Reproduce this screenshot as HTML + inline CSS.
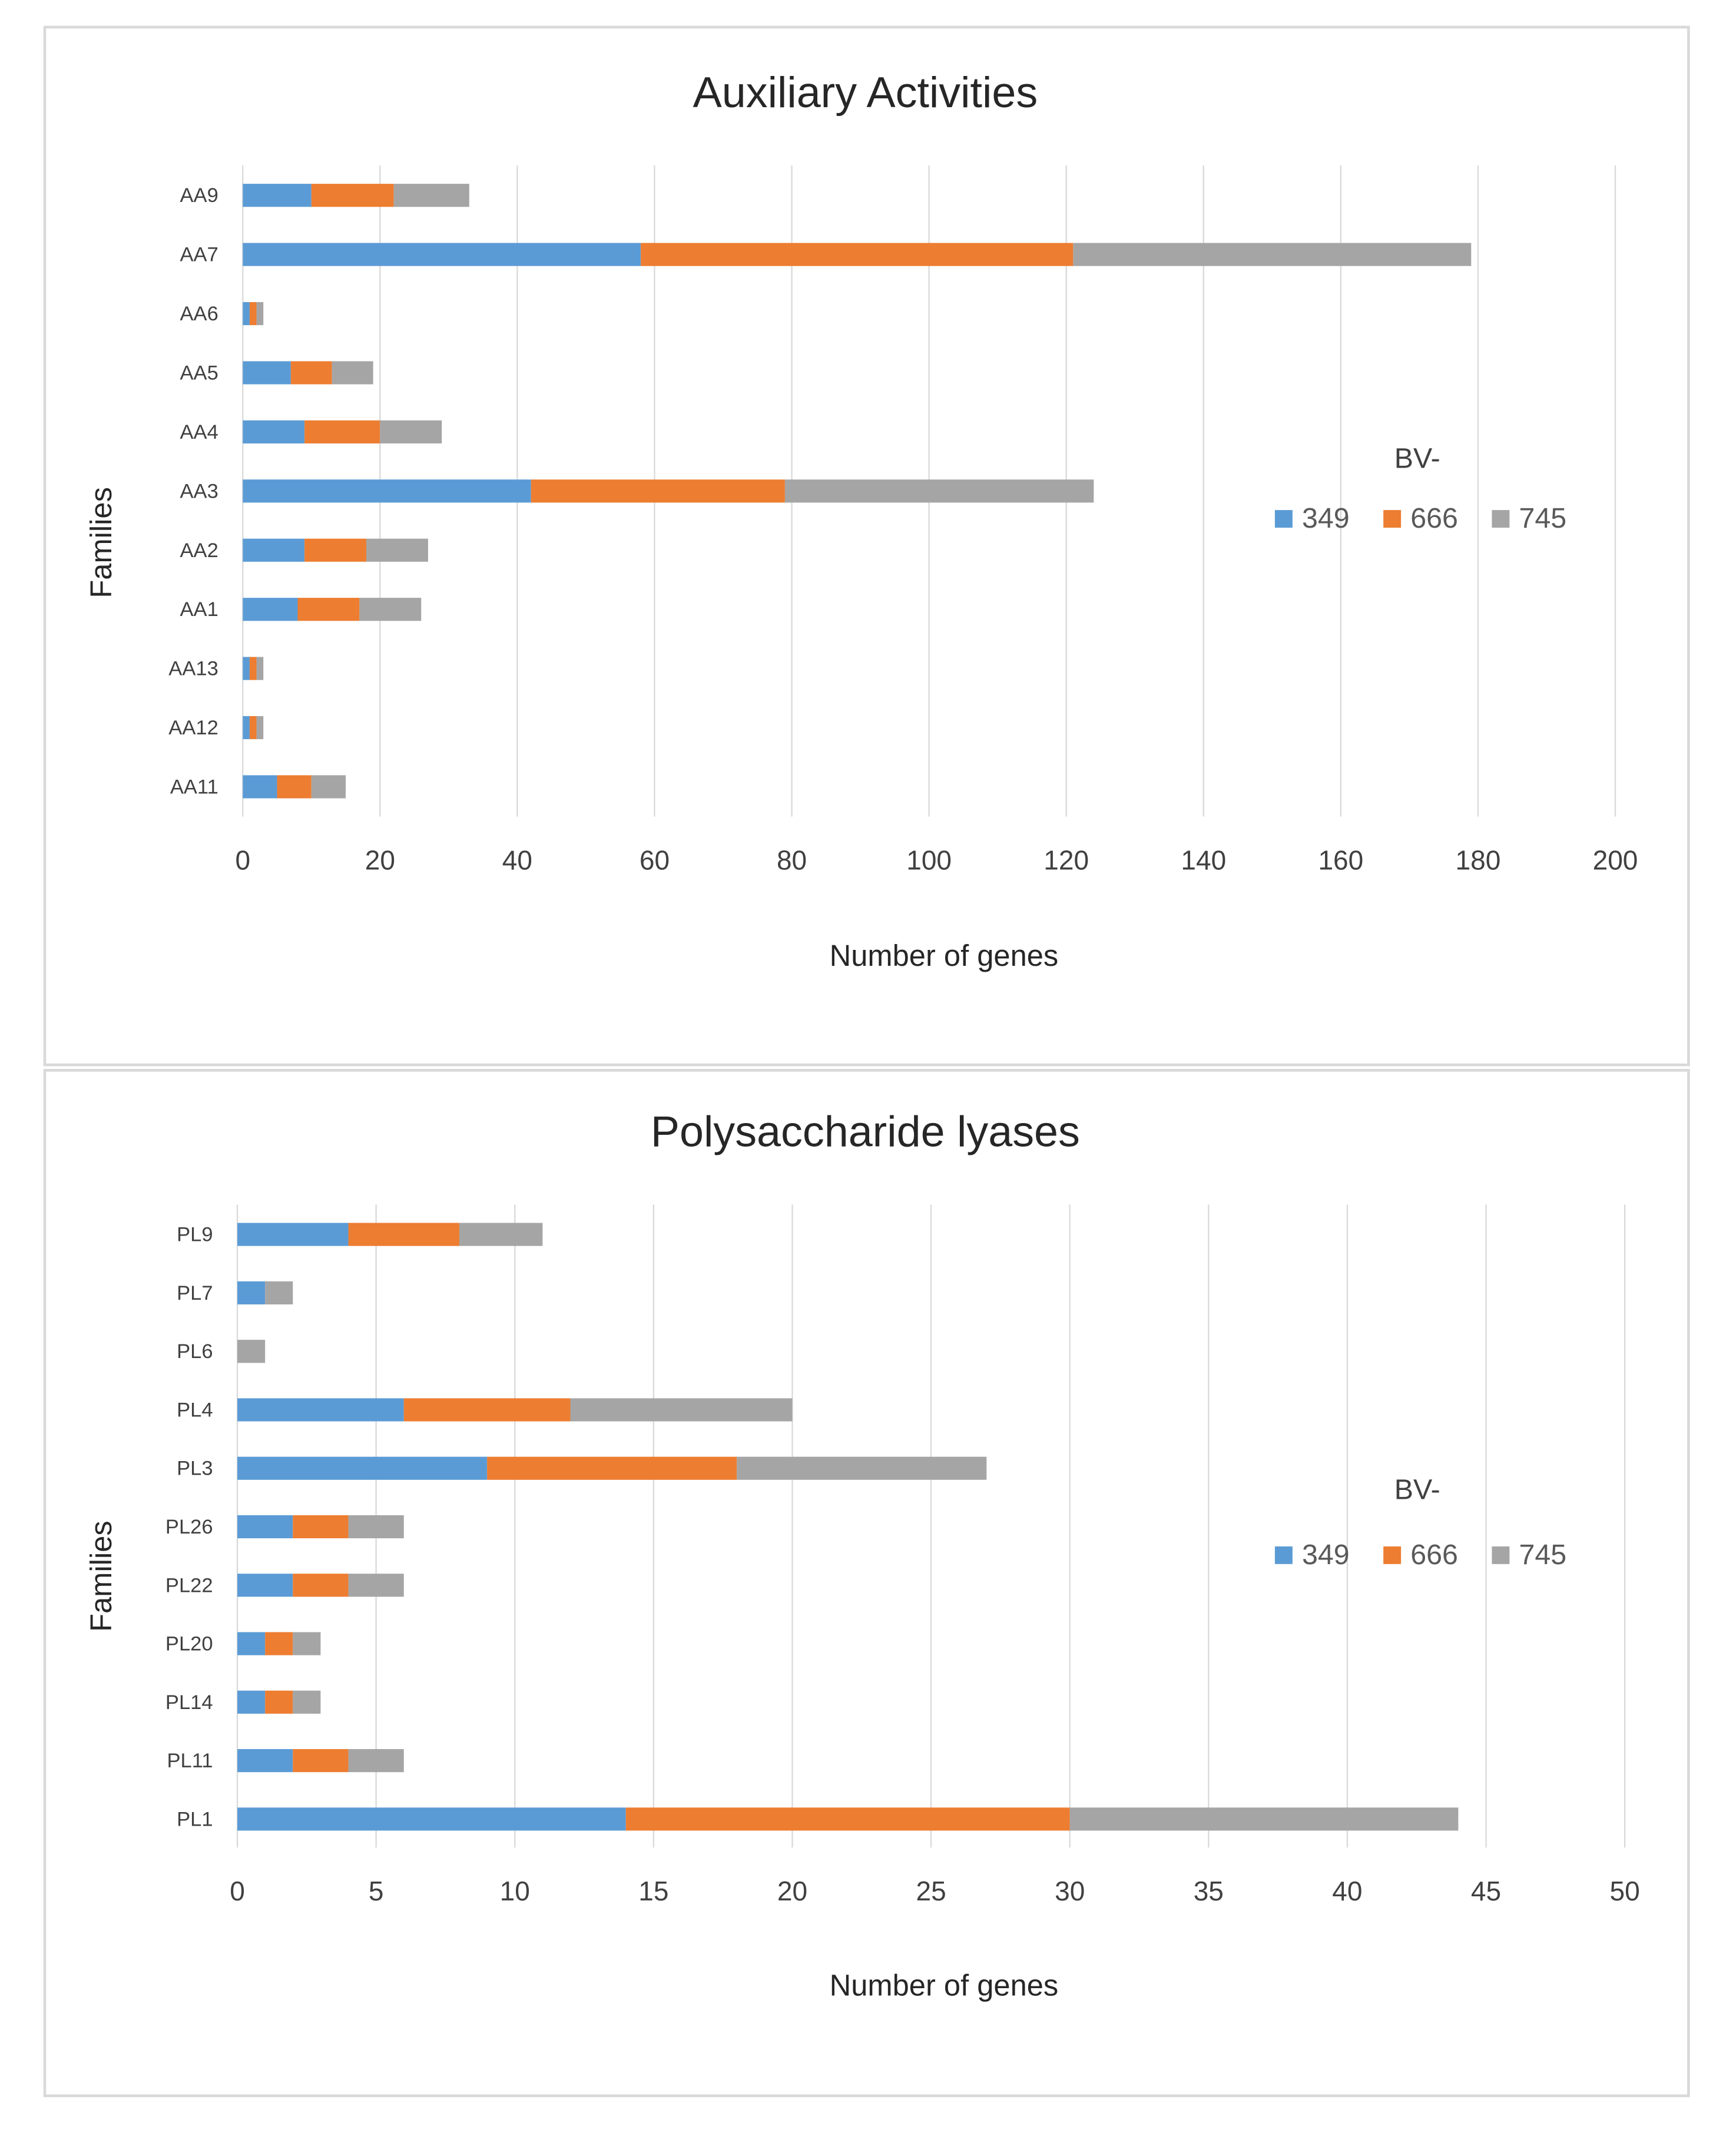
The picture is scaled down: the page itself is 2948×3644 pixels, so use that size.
<!DOCTYPE html>
<html><head><meta charset="utf-8"><style>
html,body{margin:0;padding:0;background:#fff}
svg{display:block}
text{font-family:"Liberation Sans",sans-serif}
</style></head><body>
<svg id="s" width="2948" height="3644" viewBox="0 0 1280 1582" preserveAspectRatio="none" xmlns="http://www.w3.org/2000/svg">
<rect x="0" y="0" width="1280" height="1582" fill="#fff"/>
</svg>
<script>
const aaCats=["AA9","AA7","AA6","AA5","AA4","AA3","AA2","AA1","AA13","AA12","AA11"];
const aa349=[10,58,1,7,9,42,9,8,1,1,5];
const aa666=[12,63,1,6,11,37,9,9,1,1,5];
const aa745=[11,58,1,6,9,45,9,9,1,1,5];
const aaTicks=[0,20,40,60,80,100,120,140,160,180,200];
const plCats=["PL9","PL7","PL6","PL4","PL3","PL26","PL22","PL20","PL14","PL11","PL1"];
const pl349=[4,1,0,6,9,2,2,1,1,2,14];
const pl666=[4,0,0,6,9,2,2,1,1,2,16];
const pl745=[3,1,1,8,9,2,2,1,1,2,14];
const plTicks=[0,5,10,15,20,25,30,35,40,45,50];
const colors=["#5b9bd5","#ed7d31","#a5a5a5"];
const seriesNames=["349","666","745"];
const NS="http://www.w3.org/2000/svg";
const svg=document.getElementById('s');
function mk(tag,attrs,parent,text){const e=document.createElementNS(NS,tag);for(const k in attrs)e.setAttribute(k,attrs[k]);if(text!==undefined)e.textContent=text;(parent||svg).appendChild(e);return e;}
function chart(o){
  const g=mk('g',{});
  
  
  const box=mk('rect',{x:33,y:o.boxY,width:1212,height:o.boxH,fill:'none',stroke:'#d9d9d9','stroke-width':2},g);
  
  
  const maxV=o.ticks[o.ticks.length-1];
  const xs=v=>o.x0+(o.x1-o.x0)*v/maxV;
  const ys=i=>o.yFirst+i*o.yStep;
  o.ticks.forEach(t=>{
    const l=mk('line',{x1:xs(t),x2:xs(t),y1:o.top,y2:o.bottom,stroke:'#d9d9d9','stroke-width':1},g);
    
    
    const tx=mk('text',{x:xs(t),y:o.tickY,'font-size':20,fill:'#404040','text-anchor':'middle'},g,String(t));
    
    
  });
  const sers=[o.s1,o.s2,o.s3];
  o.cats.forEach((c,i)=>{
    const y=ys(i);
    const lb=mk('text',{x:o.x0-18,y:y+5,'font-size':15,fill:'#404040','text-anchor':'end'},g,c);
    
    
    let acc=0;
    sers.forEach((s,k)=>{
      const v=s[i];
      if(v>0){
        const r=mk('rect',{x:xs(acc),y:y-8.5,width:xs(acc+v)-xs(acc),height:17,fill:colors[k]},g);
        
        
      }
      acc+=v;
    });
  });
  const t=mk('text',{x:638,y:o.titleY,'font-size':32,fill:'#262626','text-anchor':'middle'},g,o.title);
  
  
  const xt=mk('text',{x:696,y:o.xtY,'font-size':22,fill:'#262626','text-anchor':'middle'},g,'Number of genes');
  
  
  const yt=mk('text',{x:0,y:0,'font-size':22,fill:'#262626','text-anchor':'middle',transform:`translate(82,${o.ytY}) rotate(-90)`},g,'Families');
  
  
  const lt=mk('text',{x:1045,y:o.legY,'font-size':21,fill:'#404040','text-anchor':'middle'},g,'BV-');
  
  
  [940,1020,1100].forEach((lx,k)=>{
    const sq=mk('rect',{x:lx,y:o.legY2-13,width:13,height:13,fill:colors[k]},g);
    
    
    const tx=mk('text',{x:lx+20,y:o.legY2,'font-size':21,fill:'#595959'},g,seriesNames[k]);
    
    
  });
}
chart({name:'auxiliary-activities-chart',boxY:20,boxH:765,cats:aaCats,s1:aa349,s2:aa666,s3:aa745,ticks:aaTicks,
  x0:179,x1:1191,yFirst:144,yStep:43.6,top:122,bottom:602,tickY:641,titleY:79,xtY:712,ytY:400,legY:345,legY2:389,title:'Auxiliary Activities'});
chart({name:'polysaccharide-lyases-chart',boxY:789,boxH:756,cats:plCats,s1:pl349,s2:pl666,s3:pl745,ticks:plTicks,
  x0:175,x1:1198,yFirst:910,yStep:43.1,top:888,bottom:1362,tickY:1401,titleY:845,xtY:1471,ytY:1162,legY:1105,legY2:1153,title:'Polysaccharide  lyases'});
</script>
</body></html>
